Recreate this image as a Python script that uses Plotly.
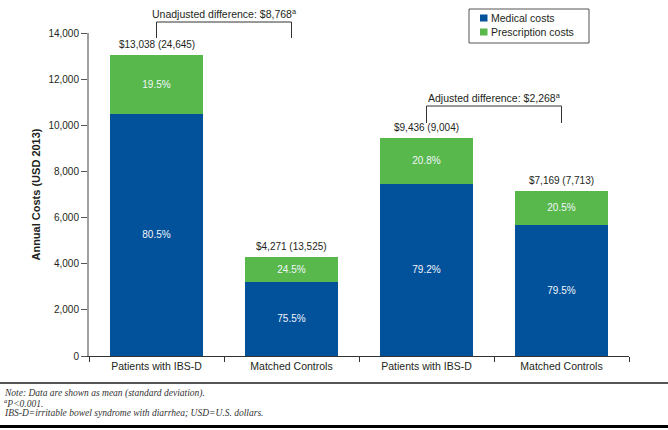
import plotly.graph_objects as go

# ---- data ----
categories = ["Patients with IBS-D", "Matched Controls", "Patients with IBS-D", "Matched Controls"]
medical_costs = [10496, 3225, 7473, 5699]
prescription_costs = [2542, 1046, 1963, 1470]
medical_pct = ["80.5%", "75.5%", "79.2%", "79.5%"]
prescription_pct = ["19.5%", "24.5%", "20.8%", "20.5%"]
total_labels = ["$13,038 (24,645)", "$4,271 (13,525)", "$9,436 (9,004)", "$7,169 (7,713)"]
totals = [13038, 4271, 9436, 7169]
bracket_pairs = [(0, 1), (2, 3)]
bracket_labels = ["Unadjusted difference: $8,768<sup>a</sup>", "Adjusted difference: $2,268<sup>a</sup>"]
series_names = ["Medical costs", "Prescription costs"]
series_colors = ["#02519B", "#58B84C"]
footnotes = [
    "<i>Note: Data are shown as mean (standard deviation).</i>",
    "<i><sup>a</sup>P&lt;0.001.</i>",
    "<i>IBS-D=irritable bowel syndrome with diarrhea; USD=U.S. dollars.</i>",
]

# ---- layout geometry (pixels) ----
W, H = 668, 430
L, R, T, B = 89, 39, 33, 74
PW, PH = W - L - R, H - T - B

def px_x(x):
    return (x - L) / PW

def px_y(y):
    return (H - B - y) / PH

SANS = "Liberation Sans, Arial, sans-serif"
TXT = "#231F20"
x = list(range(len(categories)))

fig = go.Figure()
for vals, pct, name, color in zip([medical_costs, prescription_costs], [medical_pct, prescription_pct],
                                  series_names, series_colors):
    fig.add_trace(go.Bar(
        x=x, y=vals, name=name, marker=dict(color=color, line=dict(width=0)),
        text=pct, textposition="inside", insidetextanchor="middle", textangle=0,
        textfont=dict(color="#F2F6FA", size=10, family=SANS), width=0.69, showlegend=False,
        hoverinfo="skip",
    ))

annotations = []
shapes = []

# total labels above bars
for xi, t, lab in zip(x, totals, total_labels):
    annotations.append(dict(x=xi, y=t, xref="x", yref="y", text=lab, showarrow=False,
                            yanchor="bottom", yshift=3, font=dict(size=10, color=TXT, family=SANS)))

# difference brackets
bracket_top = [px_y(22), px_y(106)]
bracket_bot = [px_y(38), px_y(123)]
for (a, b), lab, top, bot in zip(bracket_pairs, bracket_labels, bracket_top, bracket_bot):
    line = dict(color="#333333", width=1)
    shapes.append(dict(type="line", xref="x", yref="paper", x0=a, x1=b, y0=top, y1=top, line=line))
    shapes.append(dict(type="line", xref="x", yref="paper", x0=a, x1=a, y0=top, y1=bot, line=line))
    shapes.append(dict(type="line", xref="x", yref="paper", x0=b, x1=b, y0=top, y1=bot, line=line))
    annotations.append(dict(x=(a + b) / 2, y=top, xref="x", yref="paper", text=lab, showarrow=False,
                            yanchor="bottom", yshift=0, font=dict(size=10.5, color=TXT, family=SANS)))

# legend box (drawn from the series names / colours)
shapes.append(dict(type="rect", xref="paper", yref="paper", x0=px_x(469), x1=px_x(589), y0=px_y(43), y1=px_y(9),
                   line=dict(color="#555555", width=1), fillcolor="white"))
for i, (name, color) in enumerate(zip(series_names, series_colors)):
    cy = 18 + 14 * i
    shapes.append(dict(type="rect", xref="paper", yref="paper", x0=px_x(480), x1=px_x(487.5),
                       y0=px_y(cy + 3.5), y1=px_y(cy - 3.5), line=dict(width=0), fillcolor=color))
    annotations.append(dict(x=px_x(489), y=px_y(cy), xref="paper", yref="paper", text=name, showarrow=False,
                            xanchor="left", yanchor="middle", font=dict(size=10.5, color=TXT, family=SANS)))

# rules and footnotes
shapes.append(dict(type="line", xref="paper", yref="paper", x0=px_x(0), x1=px_x(W), y0=px_y(383), y1=px_y(383),
                   line=dict(color="#555555", width=2)))
shapes.append(dict(type="line", xref="paper", yref="paper", x0=px_x(0), x1=px_x(W), y0=px_y(426.5), y1=px_y(426.5),
                   line=dict(color="#000000", width=3)))
for txt, yy in zip(footnotes, [393, 403, 413]):
    annotations.append(dict(x=px_x(2), y=px_y(yy), xref="paper", yref="paper", text=txt, showarrow=False,
                            xanchor="left", yanchor="middle",
                            font=dict(size=9.5, color="#333333", family="Liberation Serif, Times New Roman, serif")))

fig.update_layout(
    width=W, height=H, barmode="stack",
    margin=dict(l=L, r=R, t=T, b=B, autoexpand=False),
    paper_bgcolor="white", plot_bgcolor="white",
    font=dict(family=SANS, color=TXT, size=10),
    showlegend=False, hovermode=False,
    xaxis=dict(range=[-0.5, len(categories) - 0.5], tickmode="array", tickvals=x, ticktext=categories,
               ticks="", showline=True, linecolor="#333333", linewidth=1, showgrid=False, zeroline=False,
               tickfont=dict(size=10.5, color=TXT, family=SANS), ticklabelstandoff=0,
               minor=dict(tickmode="array", tickvals=[i - 0.5 for i in range(len(categories) + 1)],
                          ticks="outside", ticklen=5, tickcolor="#333333", tickwidth=1, showgrid=False)),
    yaxis=dict(range=[0, 14000], dtick=2000, tickformat=",d", ticks="outside", ticklen=6,
               tickcolor="#555555", tickwidth=1, showline=True, linecolor="#A0A0A0", linewidth=2,
               showgrid=False, zeroline=False, tickfont=dict(size=10, color=TXT, family=SANS),
               title=dict(text="<b>Annual Costs (USD 2013)</b>", font=dict(size=11, color=TXT, family=SANS),
                          standoff=6)),
    annotations=annotations, shapes=shapes,
)

fig.write_html("out.html", config={"displayModeBar": False, "staticPlot": True},
               post_script="document.body.style.margin='0';document.body.style.overflow='hidden';")
